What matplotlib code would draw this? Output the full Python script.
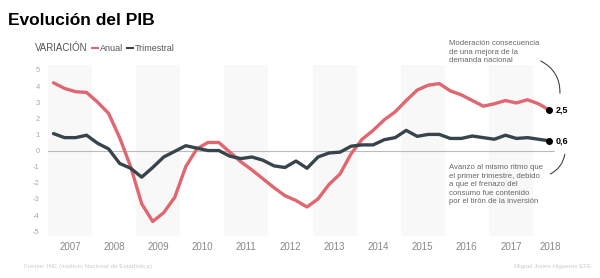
import matplotlib.pyplot as plt
import numpy as np
from matplotlib.patches import FancyArrowPatch
from matplotlib.lines import Line2D

plt.rcParams['font.family'] = ['Liberation Sans', 'DejaVu Sans']

# quarterly data, 2007Q1 .. 2018Q2
anual = [4.2, 3.85, 3.65, 3.6, 3.0, 2.3, 0.8, -1.0,
         -3.3, -4.4, -3.85, -2.9, -1.0, 0.1, 0.5, 0.5,
         -0.1, -0.7, -1.2, -1.75, -2.3, -2.8, -3.1, -3.5,
         -3.0, -2.1, -1.45, -0.2, 0.7, 1.25, 1.9, 2.4,
         3.1, 3.75, 4.05, 4.15, 3.7, 3.45, 3.1, 2.75,
         2.9, 3.1, 2.95, 3.15, 2.9, 2.5]
trimestral = [1.05, 0.8, 0.8, 0.95, 0.45, 0.1, -0.8, -1.1,
              -1.65, -1.05, -0.4, -0.05, 0.3, 0.15, 0.0, 0.0,
              -0.35, -0.5, -0.4, -0.6, -0.95, -1.05, -0.65, -1.1,
              -0.4, -0.15, -0.1, 0.27, 0.35, 0.35, 0.67, 0.8,
              1.25, 0.88, 1.0, 1.0, 0.75, 0.75, 0.9, 0.8,
              0.7, 0.95, 0.75, 0.8, 0.7, 0.6]
years = list(range(2007, 2019))
yticks = [5, 4, 3, 2, 1, 0, -1, -2, -3, -4, -5]

x = 2007 + (np.arange(len(anual)) + 0.5) / 4

red = '#e06670'
dark = '#37444c'

fig = plt.figure(figsize=(6, 2.78), dpi=100)
ax = fig.add_axes([0.08, 0.151, 0.845, 0.615])

for i, yr in enumerate(years):
    if i % 2 == 0:
        ax.axvspan(yr, yr + 1, color='#f8f8f8', lw=0, zorder=0)

ax.axhline(0, color='#bbbbbb', lw=0.8, zorder=1)
ax.plot(x, anual, color=red, lw=2.4, solid_capstyle='round', solid_joinstyle='round', zorder=3)
ax.plot(x, trimestral, color=dark, lw=2.4, solid_capstyle='round', solid_joinstyle='round', zorder=3)
ax.plot(x[-1], anual[-1], 'o', color='black', ms=4, zorder=4)
ax.plot(x[-1], trimestral[-1], 'o', color='black', ms=4, zorder=4)

ax.set_xlim(2007, 2018.5)
ax.set_ylim(-5.3, 5.3)
ax.set_yticks(yticks)
ax.set_yticklabels([str(v) for v in yticks], fontsize=5.5, color='#aaaaaa')
xt = [yr + 0.5 for yr in years[:-1]] + [2018.4]
ax.set_xticks(xt)
ax.set_xticklabels([str(y) for y in years], fontsize=7, color='#888888')
ax.tick_params(length=0, pad=4)
ax.tick_params(axis='y', pad=6)
for s in ax.spines.values():
    s.set_visible(False)

ax.text(x[-1] + 0.15, anual[-1], '2,5', fontsize=6.5, fontweight='bold', va='center', ha='left', clip_on=False)
ax.text(x[-1] + 0.15, trimestral[-1], '0,6', fontsize=6.5, fontweight='bold', va='center', ha='left', clip_on=False)

fig.text(0.013, 0.925, 'Evolución del PIB', fontsize=12.5, fontweight='bold', va='center', ha='left')
fig.text(0.058, 0.826, 'VARIACIÓN', fontsize=7, color='#555555', va='center')
fig.lines.append(Line2D([0.153, 0.163], [0.828, 0.828], transform=fig.transFigure, color=red, lw=1.5))
fig.text(0.166, 0.826, 'Anual', fontsize=6.5, color='#555555', va='center')
fig.lines.append(Line2D([0.212, 0.222], [0.828, 0.828], transform=fig.transFigure, color=dark, lw=1.5))
fig.text(0.225, 0.826, 'Trimestral', fontsize=6.5, color='#555555', va='center')

fig.text(0.748, 0.855, 'Moderación consecuencia\nde una mejora de la\ndemanda nacional',
         fontsize=5.6, color='#666666', va='top', ha='left', linespacing=1.3)
fig.text(0.748, 0.41, 'Avanzo al mismo ritmo que\nel primer trimestre, debido\na que el frenazo del\nconsumo fue contenido\npor el tirón de la inversión',
         fontsize=5.6, color='#666666', va='top', ha='left', linespacing=1.3)

a1 = FancyArrowPatch((0.897, 0.785), (0.933, 0.655), transform=fig.transFigure,
                     connectionstyle='arc3,rad=-0.35', arrowstyle='-', color='#444444', lw=0.8)
a2 = FancyArrowPatch((0.913, 0.37), (0.942, 0.455), transform=fig.transFigure,
                     connectionstyle='arc3,rad=0.3', arrowstyle='-', color='#444444', lw=0.8)
fig.patches.extend([a1, a2])

fig.text(0.04, 0.04, 'Fuente: INE (Instituto Nacional de Estadística)', fontsize=4.5, color='#cccccc', va='center')
fig.text(0.985, 0.04, 'Miguel Jones Higueras EFE', fontsize=4.5, color='#cccccc', va='center', ha='right')

fig.savefig('out.png', dpi=100, facecolor='white')
